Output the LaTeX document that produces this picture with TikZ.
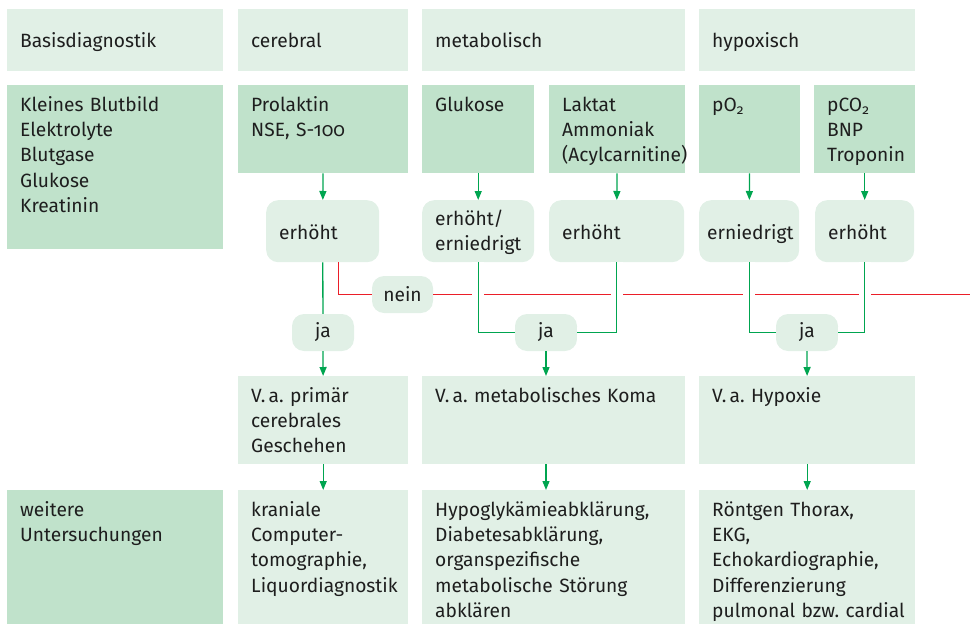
\documentclass[tikz,border=0pt]{standalone}
\usepackage{fontspec}
\setmainfont{Fira Sans}[Numbers=OldStyle]
\usetikzlibrary{arrows.meta}
\definecolor{lite}{RGB}{225,240,230}
\definecolor{dark}{RGB}{192,226,203}
\definecolor{jagreen}{RGB}{0,165,80}
\definecolor{neinred}{RGB}{235,30,40}
\definecolor{ink}{RGB}{30,30,30}
\hyphenpenalty=10000
\exhyphenpenalty=10000
\begin{document}
\begin{tikzpicture}[x=1pt,y=-1pt,
    font=\fontsize{19.2}{25.3}\selectfont, text=ink,
    cell/.style={anchor=north west, inner xsep=13pt, inner ysep=0pt, align=left},
    boxsize/.style 2 args={minimum width=#1, text width=#1-26pt,
      text height=26pt, text depth=#2-26pt},
    head/.style={cell, fill=lite, minimum width=#1, text width=#1-26pt,
      text height=38pt, text depth=24pt},
    pale/.style={cell, fill=lite},
    deep/.style={cell, fill=dark},
    result/.style={cell, fill=lite, rounded corners=12pt, minimum width=#1,
      text width=#1-26pt, text height=39pt, text depth=23pt},
    answer/.style={fill=lite, rounded corners=12pt, minimum width=#1,
      minimum height=37pt, inner sep=0pt},
    jaline/.style={draw=jagreen, line width=1.3pt},
    bridge/.style={preaction={draw=white, line width=12pt}},
    jaarrow/.style={jaline, -{Triangle[length=9pt,width=7pt]}},
    neinline/.style={draw=neinred, line width=1.3pt}]
  \useasboundingbox (0,0) rectangle (970,624);

  \node[head=216pt] (basis) at (7,9) {Basisdiagnostik};
  \node[head=170pt] (cer) at (238,9) {cerebral};
  \node[head=263pt] (met) at (422,9) {metabolisch};
  \node[head=216pt] (hyp) at (699,9) {hypoxisch};

  \node[deep, boxsize={216pt}{164pt}] (tests) at (7,85)
    {Kleines~Blutbild\\Elektrolyte\\Blutgase\\Glukose\\Kreatinin};
  \node[deep, boxsize={170pt}{88pt}] (prl) at (238,85) {Prolaktin\\NSE,~S-100};
  \node[deep, boxsize={112pt}{88pt}] (glu) at (422,85) {Glukose};
  \node[deep, boxsize={136pt}{88pt}] (lak) at (549,85)
    {Laktat\\Ammoniak\\(Acylcarnitine)};
  \node[deep, boxsize={101pt}{88pt}] (po) at (699,85) {pO\textsubscript{2}};
  \node[deep, boxsize={101pt}{88pt}] (pco) at (814,85)
    {pCO\textsubscript{2}\\BNP\\Troponin};

  \node[result=113pt] (prlhi) at (266,200) {erhöht};
  \node[result=112pt, text height=25pt, text depth=37pt] (gluhl) at (422,200)
    {erhöht/\\erniedrigt};
  \node[result=135pt] (lakhi) at (549,200) {erhöht};
  \node[result=100pt, inner xsep=8pt, text width=84pt] (polo) at (699,200) {erniedrigt};
  \node[result=99pt] (pcohi) at (815,200) {erhöht};

  \node[answer=61pt] (nein) at (402.5,294.5) {nein};
  \node[answer=62pt] (ja1) at (323,332.5) {ja};
  \node[answer=62pt] (ja2) at (546,332.5) {ja};
  \node[answer=62pt] (ja3) at (807,332.5) {ja};

  \node[pale, boxsize={170pt}{88pt}] (vacer) at (238,376)
    {V.\,a.~primär\\cerebrales\\Geschehen};
  \node[pale, boxsize={263pt}{88pt}] (vamet) at (422,376)
    {V.\,a.~metabolisches~Koma};
  \node[pale, boxsize={216pt}{88pt}] (vahyp) at (699,376) {V.\,a.~Hypoxie};

  \node[deep, boxsize={216pt}{134pt}] (more) at (7,490) {weitere\\Untersuchungen};
  \node[pale, boxsize={170pt}{134pt}] (cct) at (238,490)
    {kraniale\\Computer-\\tomographie,\\Liquordiagnostik};
  \node[pale, boxsize={263pt}{134pt}] (metdx) at (422,490)
    {Hypoglykämieabklärung,\\Diabetesabklärung,\\organspezifische\\metabolische~Störung\\abklären};
  \node[pale, boxsize={216pt}{134pt}] (hypdx) at (699,490)
    {Röntgen~Thorax,\\EKG,\\Echokardiographie,\\Differenzierung\\pulmonal~bzw.~cardial};

  \coordinate (edge) at (970,294.5);
  \begin{scope}[neinline]
    \draw ([xshift=15.5pt]prlhi.south) |- (nein);
    \draw (nein) -- (edge);
  \end{scope}

  \begin{scope}[jaarrow]
    \draw (prl) -- (prlhi);
    \draw (glu) -- (gluhl);
    \draw (lak) -- (lakhi);
    \draw (po) -- (polo);
    \draw (pco) -- (pcohi);
    \draw (ja1) -- (vacer);
    \draw (ja2) -- (ja2 |- vamet.north);
    \draw (ja3) -- (vahyp);
    \draw (vacer) -- (cct);
    \draw (ja2 |- vamet.south) -- (ja2 |- metdx.north);
    \draw (vahyp) -- (hypdx);
  \end{scope}

  \begin{scope}[jaline]
    \draw (prlhi) -- (ja1);
    \draw[bridge] (gluhl) |- (ja2);
    \draw[bridge] (lakhi) |- (ja2);
    \draw[bridge] (polo) |- (ja3);
    \draw[bridge] (pcohi) |- (ja3);
  \end{scope}
\end{tikzpicture}
\end{document}
